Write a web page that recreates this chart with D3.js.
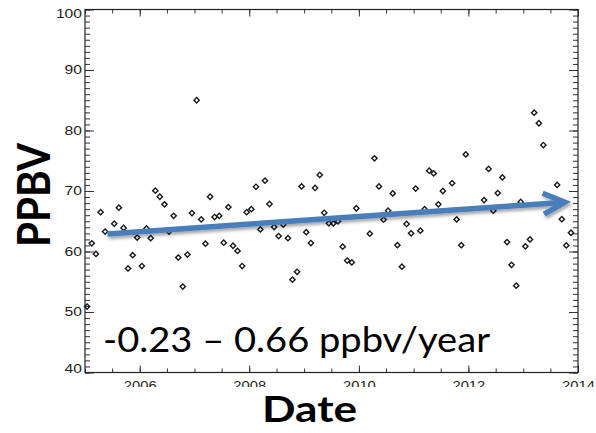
<!DOCTYPE html>
<html>
<head>
<meta charset="utf-8">
<script src="https://cdn.jsdelivr.net/npm/d3@7"></script>
<style>
  body { margin: 0; background: #fff; }
  svg { display: block; }
  .tick text { font-family: "Liberation Sans", Arial, sans-serif; font-size: 12px; fill: #222; }
  .tick line { stroke: #333; }
</style>
</head>
<body>
<div id="chart"></div>
<script>
// monthly mean values (gaps where the month has no point)
const months = [
  "2005-01","2005-02","2005-03","2005-04","2005-05","2005-07","2005-08","2005-09","2005-10","2005-11","2005-12",
  "2006-01","2006-02","2006-03","2006-04","2006-05","2006-06","2006-07","2006-08","2006-09","2006-10","2006-11","2006-12",
  "2007-01","2007-02","2007-03","2007-04","2007-05","2007-06","2007-07","2007-08","2007-09","2007-10","2007-11","2007-12",
  "2008-01","2008-02","2008-03","2008-04","2008-05","2008-06","2008-07","2008-08","2008-09","2008-10","2008-11","2008-12",
  "2009-01","2009-02","2009-03","2009-04","2009-05","2009-06","2009-07","2009-08","2009-09","2009-10","2009-11","2009-12",
  "2010-03","2010-04","2010-05","2010-06","2010-07","2010-08","2010-09","2010-10","2010-11","2010-12",
  "2011-01","2011-02","2011-03","2011-04","2011-05","2011-06","2011-07","2011-09","2011-10","2011-11","2011-12",
  "2012-04","2012-05","2012-06","2012-07","2012-08","2012-09","2012-10","2012-11","2012-12",
  "2013-01","2013-02","2013-03","2013-04","2013-05","2013-08","2013-09","2013-10","2013-11"
];
const ppbv = [
  50.9, 61.35, 59.6, 66.5, 63.3, 64.6, 67.25, 63.9, 57.2, 59.4, 62.3,
  57.6, 63.8, 62.2, 70.05, 69.05, 67.8, 63.3, 65.9, 59.0, 54.2, 59.5, 66.35,
  85.0, 65.3, 61.3, 69.05, 65.7, 65.9, 61.45, 67.35, 60.95, 60.1, 57.6, 66.5,
  67.0, 70.7, 63.65, 71.7, 67.85, 64.05, 62.55, 64.45, 62.2, 55.35, 56.65, 70.75,
  63.2, 61.4, 70.5, 72.65, 66.4, 64.65, 64.65, 65.0, 60.8, 58.5, 58.2, 67.15,
  62.95, 75.4, 70.75, 65.25, 66.75, 69.6, 61.05, 57.5, 64.55, 63.0,
  70.4, 63.45, 67.0, 73.35, 72.9, 67.8, 70.0, 71.3, 65.3, 61.05, 76.05,
  68.5, 73.65, 66.75, 69.65, 72.25, 61.55, 57.8, 54.35, 68.2,
  60.85, 62.0, 82.95, 81.2, 77.6, 71.0, 65.35, 61.0, 63.1
];

// trend arrow drawn over the scatter (decimal years, ppbv)
const trendYears = [2005.41, 2013.76];
const trendValues = [62.9, 68.15];

const yTicks = [40, 50, 60, 70, 80, 90, 100];
const xTickYears = [2006, 2008, 2010, 2012, 2014];
const annotation = "-0.23 \u2013 0.66 ppbv/year";

const width = 596;
const height = 433;
const plot = { left: 85, right: 578, top: 9.5, bottom: 372.5 };

const parseMonth = d3.timeParse("%Y-%m");
const midMonth = s => d3.timeDay.offset(parseMonth(s), 14);
const yearToDate = v => {
    const yr = Math.floor(v);
    const a = new Date(yr, 0, 1), b = new Date(yr + 1, 0, 1);
    return new Date(+a + (v - yr) * (b - a));
};

const points = months.map((m, i) => ({ date: midMonth(m), value: ppbv[i] }));

const x = d3.scaleTime()
    .domain([new Date(2005, 0, 1), new Date(2014, 0, 1)])
    .range([plot.left, plot.right]);

const y = d3.scaleLinear()
    .domain([40, 100])
    .range([plot.bottom, plot.top]);

const svg = d3.select("#chart")
    .append("svg")
    .attr("width", width)
    .attr("height", height);

const defs = svg.append("defs");
const shadow = defs.append("filter")
    .attr("id", "shadow")
    .attr("x", "-5%").attr("y", "-60%")
    .attr("width", "110%").attr("height", "220%");
shadow.append("feDropShadow")
    .attr("dx", 1.5).attr("dy", 2.5)
    .attr("stdDeviation", 1.5)
    .attr("flood-color", "#000")
    .attr("flood-opacity", 0.35);

// --- axes (ticks point inward on all four sides) ---
const minorX = x.ticks(d3.timeMonth.every(6));
const minorY = d3.range(40, 101, 1);

function drawAxis(axis, tx, ty) {
    const g = svg.append("g")
        .attr("transform", `translate(${tx},${ty})`)
        .call(axis);
    g.select(".domain").remove();
    return g;
}

drawAxis(d3.axisBottom(x).tickValues(minorX).tickSize(-4).tickFormat(""), 0, plot.bottom);
drawAxis(d3.axisTop(x).tickValues(minorX).tickSize(-4).tickFormat(""), 0, plot.top);
drawAxis(d3.axisTop(x).tickValues(xTickYears.map(yr => new Date(yr, 0, 1))).tickSize(-7).tickFormat(""), 0, plot.top);
const xAxis = drawAxis(
    d3.axisBottom(x)
        .tickValues(xTickYears.map(yr => new Date(yr, 0, 1)))
        .tickFormat(d3.timeFormat("%Y"))
        .tickSize(-7)
        .tickPadding(9),
    0, plot.bottom);
xAxis.selectAll("text")
    .attr("textLength", function () { return this.textContent.length * 8.2; })
    .attr("lengthAdjust", "spacingAndGlyphs");

drawAxis(d3.axisLeft(y).tickValues(minorY).tickSize(-5).tickFormat(""), plot.left, 0);
drawAxis(d3.axisRight(y).tickValues(minorY).tickSize(-5).tickFormat(""), plot.right, 0);
drawAxis(d3.axisRight(y).tickValues(yTicks).tickSize(-9).tickFormat(""), plot.right, 0);
const yAxis = drawAxis(
    d3.axisLeft(y).tickValues(yTicks).tickSize(-9).tickPadding(3),
    plot.left, 0);
// keep the end labels inside the frame height
yAxis.selectAll("text")
    .attr("y", d => Math.min(Math.max(y(d), plot.top + 4.5), plot.bottom - 3.5) - y(d))
    .attr("textLength", function () { return this.textContent.length * 8.7; })
    .attr("lengthAdjust", "spacingAndGlyphs");

// frame
svg.append("rect")
    .attr("x", plot.left)
    .attr("y", plot.top)
    .attr("width", plot.right - plot.left)
    .attr("height", plot.bottom - plot.top)
    .attr("fill", "none")
    .attr("stroke", "#222")
    .attr("stroke-width", 1.2);

// --- scatter of open diamonds ---
const diamond = d3.symbol().type(d3.symbolSquare).size(14);
svg.append("g")
    .selectAll("path")
    .data(points)
    .join("path")
    .attr("d", diamond)
    .attr("transform", d => `translate(${x(d.date)},${y(d.value)}) rotate(45)`)
    .attr("fill", "none")
    .attr("stroke", "#1a1a1a")
    .attr("stroke-width", 1.4);

// --- trend arrow ---
const p0 = [x(yearToDate(trendYears[0])), y(trendValues[0])];
const p1 = [x(yearToDate(trendYears[1])), y(trendValues[1])];
const ang = Math.atan2(p1[1] - p0[1], p1[0] - p0[0]);
const headLen = 24, headAng = 26 * Math.PI / 180;
const arm = s => [p1[0] - headLen * Math.cos(ang + s * headAng), p1[1] - headLen * Math.sin(ang + s * headAng)];

const arrow = svg.append("g")
    .attr("filter", "url(#shadow)")
    .attr("fill", "none")
    .attr("stroke", "#4a7ebb")
    .attr("stroke-width", 5.5);
arrow.append("path")
    .attr("d", d3.line()([p0, [p1[0] - 3 * Math.cos(ang), p1[1] - 3 * Math.sin(ang)]]));
arrow.append("path")
    .attr("stroke-linejoin", "miter")
    .attr("d", d3.line()([arm(-1), p1, arm(1)]));

// --- texts ---
svg.append("text")
    .attr("x", 103)
    .attr("y", 351.5)
    .attr("font-family", "Lato, 'Open Sans', sans-serif")
    .attr("font-size", 35)
    .attr("fill", "#000")
    .attr("textLength", 387)
    .attr("lengthAdjust", "spacingAndGlyphs")
    .text(annotation);

// the lower halves of the year labels are hidden behind the title box
svg.append("rect")
    .attr("x", 0)
    .attr("y", 387)
    .attr("width", width)
    .attr("height", height - 387)
    .attr("fill", "#fff");

svg.append("text")
    .attr("x", 309.5)
    .attr("y", 421.5)
    .attr("text-anchor", "middle")
    .attr("font-family", "Lato, 'Open Sans', sans-serif")
    .attr("font-weight", "bold")
    .attr("font-size", 37)
    .attr("textLength", 95)
    .attr("lengthAdjust", "spacingAndGlyphs")
    .text("Date");

svg.append("text")
    .attr("transform", "translate(50,195) rotate(-90)")
    .attr("text-anchor", "middle")
    .attr("font-family", "Lato, 'Open Sans', sans-serif")
    .attr("font-weight", "bold")
    .attr("font-size", 45)
    .attr("textLength", 104)
    .attr("lengthAdjust", "spacingAndGlyphs")
    .text("PPBV");
</script>
</body>
</html>
